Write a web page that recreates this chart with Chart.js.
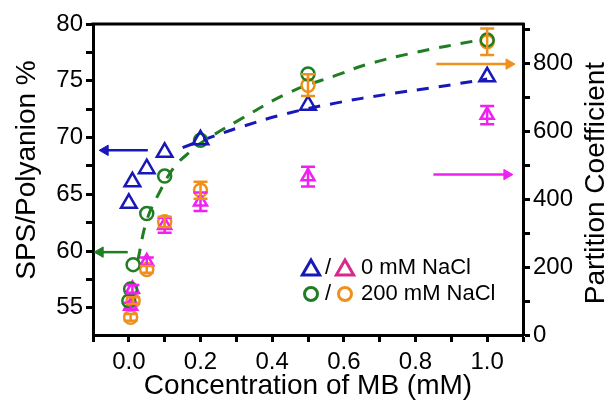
<!DOCTYPE html>
<html>
<head>
<meta charset="utf-8">
<script src="https://cdn.jsdelivr.net/npm/chart.js@4.4.1/dist/chart.umd.min.js"></script>
<style>
html, body { margin: 0; padding: 0; background: #fff; }
</style>
</head>
<body>
<canvas id="myChart" width="614" height="403"></canvas>
<script>
// SPS/Polyanion % (left axis)
const xBlue = [0, 0.01, 0.05, 0.1, 0.2, 0.5, 1.0];
const yBlue = [64.2, 66.1, 67.25, 68.7, 69.8, 72.85, 75.35];
const xGreen = [0, 0.005, 0.012, 0.05, 0.1, 0.2, 0.5, 1.0];
const yGreen = [55.6, 56.65, 58.8, 63.3, 66.6, 69.75, 75.6, 78.6];

// Partition coefficient (right axis)
const xMagenta = [0.005, 0.01, 0.05, 0.1, 0.2, 0.5, 1.0];
const yMagenta = [85, 135, 216, 323, 392, 466, 647];
const errMagenta = [10, 12, 12, 22, 27, 29, 27];
const xOrange = [0.005, 0.012, 0.05, 0.1, 0.2, 0.5, 1.0];
const yOrange = [52, 101, 193, 333, 426, 735, 863];
const errOrange = [10, 10, 10, 15, 25, 32, 39];

// dashed fit curves
const fitBlueX = [0.15, 0.2, 0.3, 0.44, 0.58, 0.72, 0.86, 1.0];
const fitBlueY = [69.1, 69.7, 70.8, 72.1, 73.05, 73.8, 74.45, 75.15];
const fitGreenX = [0.025, 0.05, 0.086, 0.128, 0.175, 0.2, 0.3, 0.45, 0.59, 0.66, 0.8, 0.98];
const fitGreenY = [59.15, 62.7, 65.2, 67.45, 68.85, 69.5, 71.4, 74.0, 75.6, 76.4, 77.5, 78.6];

// arrows (start, end) pointing at their axis
const arrowBlueX = [0.053, -0.066];
const arrowBlueY = [68.87, 68.87];
const arrowGreenX = [-0.003, -0.08];
const arrowGreenY = [59.9, 59.9];
const arrowOrangeX = [0.858, 1.061];
const arrowOrangeY = [797, 797];
const arrowMagentaX = [0.85, 1.055];
const arrowMagentaY = [472, 472];

const BLUE = "#1818b8";
const GREEN = "#1f7d22";
const MAGENTA = "#f020f0";
const ORANGE = "#f0901c";
const FONT = "'Liberation Sans', Arial, sans-serif";

function pts(xs, ys) {
  return xs.map((x, i) => ({ x: x, y: ys[i] }));
}

function arrow(xs, ys, color, rot, axis) {
  return {
    type: "line",
    data: pts(xs, ys),
    yAxisID: axis,
    borderColor: color,
    borderWidth: 2.5,
    pointStyle: "triangle",
    pointRadius: [0, 6],
    pointRotation: rot,
    pointBackgroundColor: color,
    pointBorderColor: color,
    pointBorderWidth: 1
  };
}

const errors = [
  { ds: 2, err: errMagenta, color: MAGENTA },
  { ds: 3, err: errOrange, color: ORANGE }
];

const overlay = {
  id: "overlay",
  afterDatasetsDraw(chart) {
    const ctx = chart.ctx;
    const a = chart.chartArea;
    const yr = chart.scales.y2;
    ctx.save();
    // error bars
    errors.forEach(e => {
      const meta = chart.getDatasetMeta(e.ds);
      ctx.strokeStyle = e.color;
      ctx.lineWidth = 2.5;
      meta.data.forEach((p, i) => {
        const v = chart.data.datasets[e.ds].data[i].y;
        const top = yr.getPixelForValue(v + e.err[i]);
        const bot = yr.getPixelForValue(v - e.err[i]);
        ctx.beginPath();
        ctx.moveTo(p.x, top); ctx.lineTo(p.x, bot);
        ctx.moveTo(p.x - 7, top); ctx.lineTo(p.x + 7, top);
        ctx.moveTo(p.x - 7, bot); ctx.lineTo(p.x + 7, bot);
        ctx.stroke();
      });
    });
    // top frame line
    ctx.strokeStyle = "#000";
    ctx.lineWidth = 3;
    ctx.beginPath();
    ctx.moveTo(a.left - 1.5, a.top);
    ctx.lineTo(a.right + 1.5, a.top);
    ctx.stroke();

    // y axis titles, both reading bottom to top
    ctx.fillStyle = "#000";
    ctx.font = "28px " + FONT;
    ctx.textAlign = "center";
    ctx.textBaseline = "middle";
    ctx.save();
    ctx.translate(27, 170);
    ctx.rotate(-Math.PI / 2);
    ctx.fillText("SPS/Polyanion %", 0, 0);
    ctx.restore();
    ctx.save();
    ctx.translate(596, 183);
    ctx.rotate(-Math.PI / 2);
    ctx.fillText("Partition Coefficient", 0, 0);
    ctx.restore();

    // legend
    const tri = (cx, cy, r, color) => {
      ctx.beginPath();
      ctx.moveTo(cx, cy - r);
      ctx.lineTo(cx + r * 0.866, cy + r * 0.5);
      ctx.lineTo(cx - r * 0.866, cy + r * 0.5);
      ctx.closePath();
      ctx.strokeStyle = color;
      ctx.lineWidth = 3;
      ctx.stroke();
    };
    const circ = (cx, cy, r, color) => {
      ctx.beginPath();
      ctx.arc(cx, cy, r, 0, Math.PI * 2);
      ctx.strokeStyle = color;
      ctx.lineWidth = 3;
      ctx.stroke();
    };
    tri(311, 270, 10, BLUE);
    tri(345, 270, 10, "#d8288c");
    circ(311, 294, 6.5, GREEN);
    circ(345, 294, 6.5, ORANGE);
    ctx.fillStyle = "#000";
    ctx.font = "22px " + FONT;
    ctx.textBaseline = "middle";
    ctx.textAlign = "center";
    ctx.fillText("/", 328, 268);
    ctx.fillText("/", 328, 294);
    ctx.textAlign = "left";
    ctx.fillText("0 mM NaCl", 361, 268);
    ctx.fillText("200 mM NaCl", 361, 294);
    ctx.restore();
  }
};

const tickFont = { family: FONT, size: 24 };
const titleFont = { family: FONT, size: 28 };
const gridOpts = { drawOnChartArea: false, drawTicks: true, tickLength: 7, tickWidth: 3, tickColor: "#000" };

new Chart(document.getElementById("myChart"), {
  type: "scatter",
  data: {
    datasets: [
      {
        data: pts(xBlue, yBlue), yAxisID: "y",
        pointStyle: "triangle", pointRadius: 9, pointBorderWidth: 2.5,
        pointBorderColor: BLUE, pointBackgroundColor: "rgba(0,0,0,0)"
      },
      {
        data: pts(xGreen, yGreen), yAxisID: "y",
        pointStyle: "circle", pointRadius: 6.5, pointBorderWidth: 2.5,
        pointBorderColor: GREEN, pointBackgroundColor: "rgba(0,0,0,0)"
      },
      {
        data: pts(xMagenta, yMagenta), yAxisID: "y2",
        pointStyle: "triangle", pointRadius: 7.5, pointBorderWidth: 2.5,
        pointBorderColor: MAGENTA, pointBackgroundColor: "rgba(0,0,0,0)"
      },
      {
        data: pts(xOrange, yOrange), yAxisID: "y2",
        pointStyle: "circle", pointRadius: 6.5, pointBorderWidth: 2.5,
        pointBorderColor: ORANGE, pointBackgroundColor: "rgba(0,0,0,0)"
      },
      {
        type: "line", data: pts(fitBlueX, fitBlueY), yAxisID: "y",
        borderColor: BLUE, borderWidth: 3, borderDash: [12, 10],
        pointRadius: 0, tension: 0.4, fill: false
      },
      {
        type: "line", data: pts(fitGreenX, fitGreenY), yAxisID: "y",
        borderColor: GREEN, borderWidth: 3, borderDash: [12, 10],
        pointRadius: 0, tension: 0.4, fill: false
      },
      arrow(arrowBlueX, arrowBlueY, BLUE, -90, "y"),
      arrow(arrowGreenX, arrowGreenY, GREEN, -90, "y"),
      arrow(arrowOrangeX, arrowOrangeY, ORANGE, 90, "y2"),
      arrow(arrowMagentaX, arrowMagentaY, MAGENTA, 90, "y2")
    ]
  },
  options: {
    responsive: false,
    animation: false,
    layout: { padding: { top: 24 } },
    plugins: { legend: { display: false }, tooltip: { enabled: false } },
    scales: {
      x: {
        type: "linear", min: -0.1, max: 1.1,
        ticks: {
          stepSize: 0.1, autoSkip: false, maxRotation: 0, padding: 6,
          font: tickFont, color: "#000",
          callback: v => {
            const k = Math.round(v * 10);
            return (k >= 0 && k <= 10 && k % 2 === 0) ? (k / 10).toFixed(1) : "";
          }
        },
        grid: gridOpts,
        border: { color: "#000", width: 3 },
        title: { display: true, text: "Concentration of MB (mM)", font: titleFont, color: "#000", padding: 0 },
        afterFit: s => { s.height = 68; }
      },
      y: {
        position: "left", min: 52.6, max: 80,
        ticks: {
          stepSize: 2.5, includeBounds: false, autoSkip: false, padding: 3,
          font: tickFont, color: "#000",
          callback: v => (v % 5 === 0 ? String(v) : "")
        },
        grid: gridOpts,
        border: { color: "#000", width: 3 },
        title: { display: false },
        afterFit: s => { s.width = 93; }
      },
      y2: {
        position: "right", min: 0, max: 915,
        ticks: {
          stepSize: 100, includeBounds: false, autoSkip: false, padding: 3,
          font: tickFont, color: "#000",
          callback: v => (v % 200 === 0 ? String(v) : "")
        },
        grid: gridOpts,
        border: { color: "#000", width: 3 },
        title: { display: false },
        afterFit: s => { s.width = 91; }
      }
    }
  },
  plugins: [overlay]
});
</script>
</body>
</html>
